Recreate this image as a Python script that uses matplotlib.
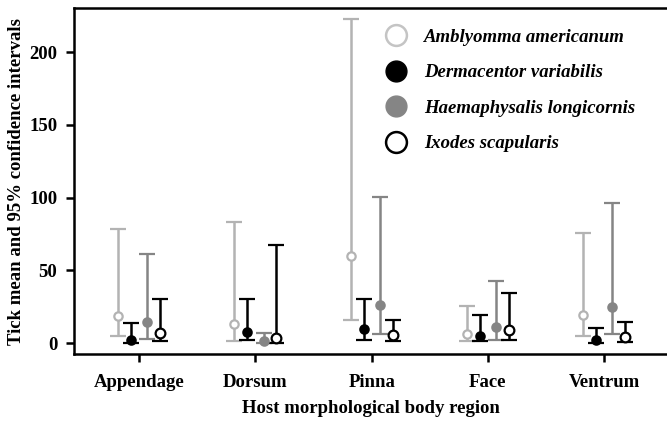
import matplotlib
matplotlib.use("Agg")
import matplotlib.pyplot as plt
from matplotlib.lines import Line2D
import numpy as np

regions = ["Appendage", "Dorsum", "Pinna", "Face", "Ventrum"]
species = ["Amblyomma americanum", "Dermacentor variabilis",
           "Haemaphysalis longicornis", "Ixodes scapularis"]

amb_mean = [18.6, 12.9, 59.8, 6.5, 19.0]
amb_low = [4.6, 1.6, 16.1, 1.2, 4.6]
amb_up = [78.4, 83.4, 223.0, 25.4, 75.9]

der_mean = [1.9, 8.0, 9.4, 4.6, 2.5]
der_low = [0.3, 1.9, 2.5, 1.2, 0.3]
der_up = [13.5, 30.5, 30.0, 19.0, 10.3]

hae_mean = [14.4, 1.4, 26.4, 11.0, 24.7]
hae_low = [3.0, 0.2, 6.4, 2.3, 6.4]
hae_up = [61.0, 6.9, 100.3, 42.6, 96.5]

ixo_mean = [6.9, 3.7, 5.3, 8.7, 4.1]
ixo_low = [1.4, 0.2, 1.2, 1.9, 0.7]
ixo_up = [30.0, 67.6, 15.6, 34.4, 14.4]

plt.rcParams['font.family'] = ['Liberation Serif', 'DejaVu Serif']

fig = plt.figure(figsize=(6.67, 4.21), dpi=100)
ax = fig.add_axes([0.111, 0.159, 0.889, 0.821])

x = np.arange(len(regions))
offsets = [-0.18, -0.07, 0.07, 0.18]
series = [
    (amb_mean, amb_low, amb_up, "#b3b3b3", "white", 6),
    (der_mean, der_low, der_up, "black", "black", 6),
    (hae_mean, hae_low, hae_up, "#858585", "#858585", 6),
    (ixo_mean, ixo_low, ixo_up, "black", "white", 7),
]
for (m, lo, up, col, fc, ms), off in zip(series, offsets):
    m = np.array(m); lo = np.array(lo); up = np.array(up)
    ax.errorbar(x + off, m, yerr=[m - lo, up - m], fmt='o', color=col,
                ecolor=col, elinewidth=1.8, capsize=6, capthick=1.8,
                markerfacecolor=fc, markeredgecolor=col, markeredgewidth=1.6,
                markersize=ms, zorder=3)

ax.set_xlim(-0.56, 4.54)
ax.set_ylim(-7.5, 230)
ax.set_xticks(x)
ax.set_xticklabels(regions, fontsize=13.5, fontweight='bold')
ax.set_yticks([0, 50, 100, 150, 200])
ax.set_yticklabels(["0", "50", "100", "150", "200"], fontsize=13.5, fontweight='bold')
ax.tick_params(direction='out', length=6, width=1.8, pad=6)
ax.tick_params(axis='x', pad=8)
for s in ['left', 'bottom', 'top']:
    ax.spines[s].set_linewidth(1.8)
ax.spines['right'].set_visible(False)

ax.set_xlabel("Host morphological body region", fontsize=13.5, fontweight='bold', labelpad=7)
ax.set_ylabel("Tick mean and 95% confidence intervals", fontsize=13.5, fontweight='bold', labelpad=3)

handles = [
    Line2D([], [], linestyle='none', marker='o', markersize=15,
           markerfacecolor='white', markeredgecolor='#c4c4c4', markeredgewidth=1.8),
    Line2D([], [], linestyle='none', marker='o', markersize=15,
           markerfacecolor='black', markeredgecolor='black'),
    Line2D([], [], linestyle='none', marker='o', markersize=15,
           markerfacecolor='#858585', markeredgecolor='#858585'),
    Line2D([], [], linestyle='none', marker='o', markersize=15,
           markerfacecolor='white', markeredgecolor='black', markeredgewidth=1.8),
]
leg = ax.legend(handles, species, loc='upper left', bbox_to_anchor=(0.483, 0.99),
                frameon=False, labelspacing=0.98, handletextpad=0.5,
                prop={'family': 'Liberation Serif', 'weight': 'bold',
                      'style': 'italic', 'size': 13.5})

fig.savefig("out.png", dpi=100)
